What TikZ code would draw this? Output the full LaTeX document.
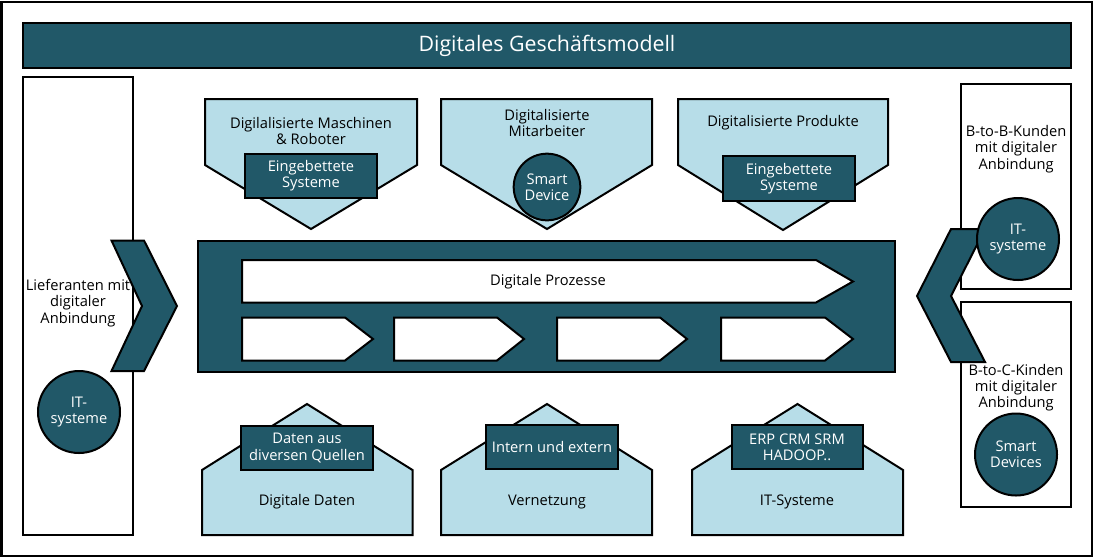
\documentclass[tikz,border=0pt]{standalone}
\usepackage{fontspec}
\setmainfont{Open Sans}
\definecolor{teal}{HTML}{215868}
\definecolor{lightaqua}{HTML}{B7DDE8}
\tikzset{
  dark/.style={fill=teal, draw=black, line width=1.5pt, line join=miter},
  light/.style={fill=lightaqua, draw=black, line width=1.5pt, line join=miter},
  whitebox/.style={fill=white, draw=black, line width=1.5pt, line join=miter},
  txt/.style={font=\fontsize{11}{12.2}\selectfont, align=center, inner sep=0pt, text=black},
  wtxt/.style={txt, text=white},
  roundel/.style={circle, dark, minimum size=61.5pt, inner sep=0pt, wtxt},
}
\begin{document}
\begin{tikzpicture}[x=0.75pt,y=-0.75pt]
\useasboundingbox (0,0) rectangle (1094,558);
% outer frame
\draw[line width=1.5pt] (1.5,1.5) rectangle (1091.5,556);
% title bar
\draw[dark] (23,23) rectangle (1071,68);
\node[wtxt, font=\fontsize{16}{18}\selectfont] (title) at (547,45.5) {Digitales Geschäftsmodell};
% side boxes
\draw[whitebox] (23,77) rectangle (133,535);
\draw[whitebox] (961,84) rectangle (1071,289);
\draw[whitebox] (961,302) rectangle (1071,507);
% top pentagons
\draw[light] (205,99) -- (417,99) -- (417,165) -- (311,229) -- (205,165) -- cycle;
\draw[light] (441,99) -- (652,99) -- (652,165) -- (547,229) -- (441,165) -- cycle;
\draw[light] (678,99) -- (888,99) -- (888,165) -- (783,230) -- (678,165) -- cycle;
\draw[dark] (245,154) rectangle (377,198);
\draw[dark] (723,156) rectangle (855,201);
\node[roundel, minimum size=50pt] (smartdevice) at (547,187) {Smart\\Device};
\node[txt] (maschinen) at (311,131) {Digilalisierte Maschinen\\\& Roboter};
\node[txt] (mitarbeiter) at (547,123) {Digitalisierte\\Mitarbeiter};
\node[txt] (produkte) at (783,123) {Digitalisierte Produkte};
\node[wtxt] (eingeb1) at (311,176) {Eingebettete\\Systeme};
\node[wtxt] (eingeb3) at (789,178.5) {Eingebettete\\Systeme};
% main process box
\draw[dark] (198,241) rectangle (895,371.5);
\draw[whitebox] (242,260) -- (816,260) -- (853,281.5) -- (816,302.5) -- (242,302.5) -- cycle;
\node[txt] (prozesse) at (548,281.5) {Digitale Prozesse};
\foreach \a/\b/\c in {242/345/373, 394/497/524, 557/660/687, 721/825/853}{
  \draw[whitebox] (\a,317.5) -- (\b,317.5) -- (\c,339) -- (\b,360.5) -- (\a,360.5) -- cycle;
}
% bottom houses
\draw[light] (202,535) -- (202,470) -- (307,404) -- (412.5,470) -- (412.5,535) -- cycle;
\draw[light] (441,535) -- (441,470) -- (547,404) -- (652,470) -- (652,535) -- cycle;
\draw[light] (692,535) -- (692,470) -- (797.5,404) -- (903,470) -- (903,535) -- cycle;
\draw[dark] (241,426) rectangle (373,470);
\draw[dark] (486,425) rectangle (618,469);
\draw[dark] (731.5,425) rectangle (863,469);
\node[wtxt] (quellen) at (307,448) {Daten aus\\diversen Quellen};
\node[wtxt] (intern) at (552,447) {Intern und extern};
\node[wtxt] (erp) at (797,447) {ERP CRM SRM\\HADOOP..};
\node[txt] (daten) at (307,502) {Digitale Daten};
\node[txt] (vernetzung) at (547,502) {Vernetzung};
\node[txt] (itsys) at (797,502) {IT-Systeme};
% chevrons
\draw[dark] (111.5,240.5) -- (144,240.5) -- (177,306) -- (144,371) -- (111.5,371) -- (142,306) -- cycle;
\draw[dark] (985,229) -- (951,229) -- (917,296) -- (951,362) -- (985,362) -- (951,296) -- cycle;
% circles
\node[roundel] (itleft) at (79,412) {IT-\\systeme};
\node[roundel] (itright) at (1018,239) {IT-\\systeme};
\node[roundel] (smartdevices) at (1016,454.5) {Smart\\Devices};
% side texts
\node[txt] (lieferanten) at (78,303) {Lieferanten mit\\digitaler\\Anbindung};
\node[txt] (btob) at (1016,149) {B-to-B-Kunden\\mit digitaler\\Anbindung};
\node[txt] (btoc) at (1016,387.5) {B-to-C-Kinden\\mit digitaler\\Anbindung};
\end{tikzpicture}
\end{document}
